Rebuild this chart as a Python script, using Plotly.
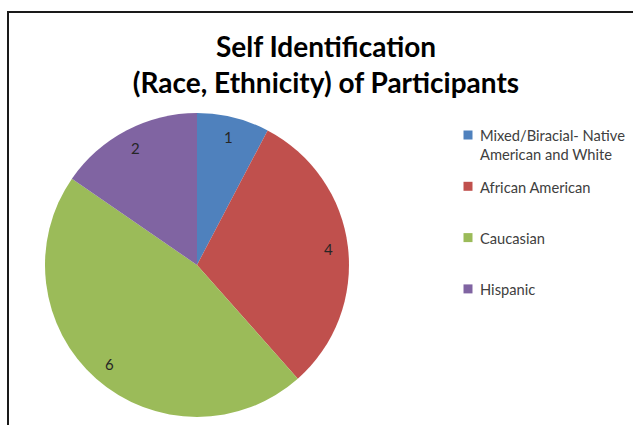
import math
import plotly.graph_objects as go

categories = ["Mixed/Biracial- Native<br>American and White", "African American", "Caucasian", "Hispanic"]
counts = [1, 4, 6, 2]
colors = ["#4F81BD", "#C0504D", "#9BBB59", "#8064A2"]
title_lines = ["Self Identification", "(Race, Ethnicity) of Participants"]

W, H = 633, 425
# pie geometry (pixels)
CX, CY, R = 197, 265, 152
LABEL_R = 0.87

fig = go.Figure()
fig.add_trace(go.Pie(
    labels=categories,
    values=counts,
    marker=dict(colors=colors, line=dict(width=0)),
    sort=False,
    direction="clockwise",
    rotation=0,
    textinfo="none",
    hoverinfo="label+value",
    domain=dict(x=[(CX - R) / W, (CX + R) / W], y=[(H - CY - R) / H, (H - CY + R) / H]),
    showlegend=False,
))

annotations = []
# data labels placed at mid-angle of each slice
total = sum(counts)
cum = 0
for v in counts:
    mid = (cum + v / 2) / total * 2 * math.pi
    cum += v
    px = CX + LABEL_R * R * math.sin(mid)
    py = CY - LABEL_R * R * math.cos(mid)
    annotations.append(dict(
        x=px / W, y=1 - py / H, xref="paper", yref="paper",
        text=str(v), showarrow=False, xanchor="center", yanchor="middle",
        font=dict(family="Lato", size=15, color="#262626"),
    ))

# legend (manual, to reproduce spacing)
LEG_FS = 14.7
LEG_X_SYM = 468
LEG_X_TXT = 478
LEG_Y0 = 135
LEG_STEP = 51.3
shapes = []
for i, (lab, col) in enumerate(zip(categories, colors)):
    yc = LEG_Y0 + i * LEG_STEP
    shapes.append(dict(type="rect", xref="paper", yref="paper",
                       x0=(LEG_X_SYM - 4.5) / W, x1=(LEG_X_SYM + 4.5) / W,
                       y0=1 - (yc + 4.5) / H, y1=1 - (yc - 4.5) / H,
                       line=dict(width=0), fillcolor=col))
    annotations.append(dict(
        x=LEG_X_TXT / W, y=1 - (yc - 1.3 * LEG_FS / 2 - 1) / H,
        xref="paper", yref="paper", text=lab, showarrow=False,
        xanchor="left", yanchor="top", align="left",
        font=dict(family="Lato", size=LEG_FS, color="#404040"),
    ))

shapes.append(dict(type="rect", xref="paper", yref="paper",
                   x0=8 / W, x1=1.2, y0=-0.2, y1=1 - 12 / H,
                   line=dict(color="#1a1a1a", width=2), fillcolor="rgba(0,0,0,0)"))

fig.update_layout(
    width=W, height=H, autosize=False,
    margin=dict(l=0, r=0, t=0, b=0),
    paper_bgcolor="white",
    plot_bgcolor="white",
    title=dict(
        text="<br>".join(title_lines),
        font=dict(family="Lato", size=28, color="#000000", weight="bold"),
        x=326 / W, xanchor="center",
        xref="paper",
        y=1 - 57 / H, yanchor="middle", yref="container",
    ),
    showlegend=False,
    annotations=annotations,
    shapes=shapes,
)

fig.write_html("out.html")
